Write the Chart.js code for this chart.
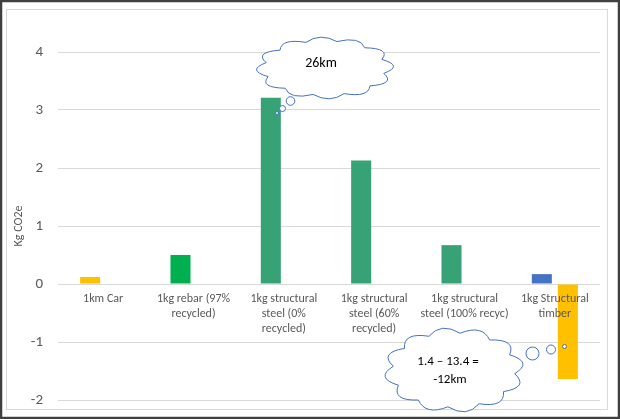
<!DOCTYPE html>
<html>
<head>
<meta charset="utf-8">
<script src="https://cdn.jsdelivr.net/npm/chart.js@4"></script>
<style>
  html, body { margin: 0; padding: 0; background: #fff; }
  #wrap { position: relative; width: 620px; height: 419px; }
  canvas { display: block; }
</style>
</head>
<body>
<div id="wrap"><canvas id="chartCo2" width="620" height="419"></canvas></div>
<script>
// Embodied carbon vs driving distance

const categories = [
  '1km Car',
  ['1kg rebar (97%', 'recycled)'],
  ['1kg structural', 'steel (0%', 'recycled)'],
  ['1kg structural', 'steel (60%', 'recycled)'],
  ['1kg structural', 'steel (100% recyc)'],
  ['1kg Structural', 'timber']
];
const emissions = [0.12, 0.5, 3.21, 2.13, 0.67, 0.17];
const sequestered = [null, null, null, null, null, -1.64];
const barColours = ['#FFC000', '#00B050', '#37A275', '#37A275', '#37A275', '#4472C4'];
const yTicks = [-2, -1, 0, 1, 2, 3, 4];

const FONT = 'Carlito, Calibri, Lato, sans-serif';
const GREY = '#595959';

// cloud callout helper
function cloud(ctx, cx, cy, rx, ry, n, rot) {
  ctx.beginPath();
  for (let i = 0; i <= n; i++) {
    const a = rot + (i / n) * Math.PI * 2;
    const x = cx + rx * Math.cos(a), y = cy + ry * Math.sin(a);
    if (i === 0) { ctx.moveTo(x, y); continue; }
    const m = rot + ((i - 0.5) / n) * Math.PI * 2;
    ctx.quadraticCurveTo(cx + rx * 1.32 * Math.cos(m), cy + ry * 1.32 * Math.sin(m), x, y);
  }
  ctx.closePath();
  ctx.fillStyle = '#fff';
  ctx.fill();
  ctx.strokeStyle = '#4472C4';
  ctx.lineWidth = 1;
  ctx.stroke();
}

function bubble(ctx, x, y, r) {
  ctx.beginPath();
  ctx.arc(x, y, r, 0, Math.PI * 2);
  ctx.fillStyle = '#fff';
  ctx.fill();
  ctx.strokeStyle = '#4472C4';
  ctx.lineWidth = 1;
  ctx.stroke();
}

const framePlugin = {
  id: 'frame',
  beforeDraw(chart) {
    const ctx = chart.ctx;
    ctx.save();
    ctx.fillStyle = '#fff';
    ctx.fillRect(0, 0, chart.width, chart.height);
    ctx.strokeStyle = '#d9d9d9';
    ctx.lineWidth = 1;
    ctx.strokeRect(6.5, 9.5, 601, 400);
    ctx.restore();
  },
  afterDraw(chart) {
    const ctx = chart.ctx;
    ctx.save();
    // thought clouds
    cloud(ctx, 325, 68, 60, 27, 12, 0.2);
    bubble(ctx, 290.5, 101, 4.3);
    bubble(ctx, 282.5, 108.5, 3);
    bubble(ctx, 277, 113, 1.5);
    cloud(ctx, 454, 370, 61, 37, 12, 0.1);
    bubble(ctx, 532.5, 353.5, 6.5);
    bubble(ctx, 551, 349.5, 4.5);
    bubble(ctx, 564.5, 346.5, 2);
    ctx.fillStyle = '#000';
    ctx.textAlign = 'center';
    ctx.textBaseline = 'middle';
    ctx.font = '14px ' + FONT;
    ctx.fillText('26km', 321, 63);
    ctx.font = '13px ' + FONT;
    ctx.fillText('1.4 \u2013 13.4 =', 448, 362);
    ctx.fillText('-12km', 450, 380);
    // outer dark frame
    ctx.strokeStyle = '#404040';
    ctx.lineWidth = 2.5;
    ctx.strokeRect(1, 1, chart.width - 2, chart.height - 2);
    ctx.restore();
  }
};

new Chart(document.getElementById('chartCo2'), {
  type: 'bar',
  data: {
    labels: categories,
    datasets: [
      {
        label: 'Emissions',
        data: emissions,
        backgroundColor: barColours,
        categoryPercentage: 0.576,
        barPercentage: 0.77
      },
      {
        label: 'Sequestered',
        data: sequestered,
        backgroundColor: '#FFC000',
        categoryPercentage: 0.576,
        barPercentage: 0.77
      }
    ]
  },
  options: {
    responsive: false,
    animation: false,
    devicePixelRatio: 1,
    layout: { padding: { left: 0, right: 20, top: 52, bottom: 19 } },
    plugins: { legend: { display: false }, tooltip: { enabled: false } },
    scales: {
      x: {
        position: { y: 0 },
        grid: { display: false, drawTicks: false },
        border: { display: false },
        ticks: {
          z: 1,
          color: GREY,
          font: { family: FONT, size: 12, lineHeight: 1.22 },
          padding: 8,
          maxRotation: 0,
          autoSkip: false
        }
      },
      y: {
        min: -2,
        max: 4,
        afterBuildTicks: s => { s.ticks = yTicks.map(v => ({ value: v })); },
        afterFit: s => { s.width = 58; s.paddingTop = 0; s.paddingBottom = 0; },
        grid: { color: '#d9d9d9', drawTicks: false },
        border: { display: false },
        ticks: {
          color: GREY,
          font: { family: FONT, size: 15 },
          padding: 15
        },
        title: {
          display: true,
          text: 'Kg CO2e',
          color: GREY,
          font: { family: FONT, size: 12 },
          padding: { top: 12, bottom: 0 }
        }
      }
    }
  },
  plugins: [framePlugin]
});
</script>
</body>
</html>
